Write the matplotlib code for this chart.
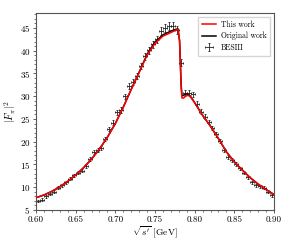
import numpy as np
import matplotlib
matplotlib.use("Agg")
import matplotlib.pyplot as plt
from matplotlib.ticker import MultipleLocator

plt.rcParams["font.family"] = "serif"
plt.rcParams["font.serif"] = ["cmr10", "DejaVu Serif"]
plt.rcParams["mathtext.fontset"] = "cm"
plt.rcParams["axes.formatter.use_mathtext"] = True

# BESIII data points (bin centres in GeV)
besiii_x = [0.6025, 0.6075, 0.6125, 0.6175, 0.6225, 0.6275, 0.6325, 0.6375, 0.6425, 0.6475,
            0.6525, 0.6575, 0.6625, 0.6675, 0.6725, 0.6775, 0.6825, 0.6875, 0.6925, 0.6975,
            0.7025, 0.7075, 0.7125, 0.7175, 0.7225, 0.7275, 0.7325, 0.7375, 0.7425, 0.7475,
            0.7525, 0.7575, 0.7625, 0.7675, 0.7725, 0.7775, 0.7825, 0.7875, 0.7925, 0.7975,
            0.8025, 0.8075, 0.8125, 0.8175, 0.8225, 0.8275, 0.8325, 0.8375, 0.8425, 0.8475,
            0.8525, 0.8575, 0.8625, 0.8675, 0.8725, 0.8775, 0.8825, 0.8875, 0.8925, 0.8975]
besiii_y = [7.0, 7.3, 8.0, 8.5, 9.0, 9.9, 10.4, 11.1, 11.9, 12.6,
            13.2, 13.6, 14.6, 16.2, 17.8, 18.1, 18.7, 20.6, 22.8, 24.2,
            26.5, 27.0, 30.0, 32.2, 33.2, 34.5, 36.7, 38.8, 40.1, 41.4,
            42.5, 44.4, 45.0, 45.4, 45.5, 44.5, 37.4, 30.7, 30.8, 30.4,
            28.3, 26.6, 25.5, 24.3, 23.0, 21.6, 20.1, 18.2, 16.6, 16.0,
            15.1, 14.2, 13.2, 12.2, 11.1, 10.4, 10.2, 9.9, 9.0, 8.2]
besiii_yerr = [0.3, 0.3, 0.3, 0.3, 0.3, 0.3, 0.3, 0.3, 0.35, 0.35,
               0.35, 0.35, 0.4, 0.4, 0.45, 0.45, 0.45, 0.5, 0.5, 0.55,
               0.55, 0.6, 0.6, 0.65, 0.65, 0.7, 0.7, 0.75, 0.75, 0.8,
               0.8, 0.85, 0.85, 0.85, 0.85, 0.85, 0.8, 0.6, 0.6, 0.6,
               0.55, 0.55, 0.5, 0.5, 0.5, 0.45, 0.45, 0.4, 0.4, 0.4,
               0.35, 0.35, 0.35, 0.3, 0.3, 0.3, 0.3, 0.3, 0.3, 0.3]
besiii_xerr = 0.0025

# Fit curves
fit_x = [0.600, 0.610, 0.620, 0.630, 0.640, 0.650, 0.660, 0.670, 0.680, 0.690,
         0.700, 0.710, 0.720, 0.730, 0.740, 0.750, 0.760, 0.770, 0.776, 0.779,
         0.781, 0.782, 0.783, 0.784, 0.786, 0.789, 0.792, 0.795, 0.800, 0.810,
         0.820, 0.830, 0.840, 0.850, 0.860, 0.870, 0.880, 0.890, 0.900]
this_work = [7.7, 8.3, 9.1, 10.1, 11.3, 12.7, 14.3, 16.2, 18.4, 21.0,
             24.0, 27.6, 31.5, 35.2, 39.0, 41.6, 43.2, 44.0, 44.5, 44.7,
             42.0, 37.0, 32.0, 29.6, 29.6, 30.1, 30.2, 29.8, 28.6, 25.8,
             23.4, 20.7, 17.8, 15.6, 13.8, 12.1, 10.7, 9.5, 8.4]
original_work = [7.7, 8.3, 9.1, 10.1, 11.3, 12.7, 14.3, 16.2, 18.4, 21.0,
                 24.0, 27.6, 31.5, 35.3, 39.2, 41.9, 43.5, 44.3, 44.7, 44.8,
                 42.2, 37.3, 32.5, 30.1, 30.2, 30.5, 30.4, 29.9, 28.6, 25.8,
                 23.4, 20.7, 17.8, 15.6, 13.8, 12.1, 10.7, 9.5, 8.4]

fig = plt.figure(figsize=(2.93, 2.40), dpi=100)
ax = fig.add_axes([0.123, 0.125, 0.812, 0.821])

ax.plot(fit_x, original_work, color="black", lw=1.1, label="Original work", zorder=2)
ax.plot(fit_x, this_work, color="red", lw=1.1, label="This work", zorder=3)
ax.errorbar(besiii_x, besiii_y, xerr=besiii_xerr, yerr=besiii_yerr, fmt="none",
            ecolor="#222222", elinewidth=0.6, capsize=1.0, capthick=0.6,
            label="BESIII", zorder=1)

ax.set_xlim(0.60, 0.90)
ax.set_ylim(5, 48.3)
ax.xaxis.set_major_locator(MultipleLocator(0.05))
ax.xaxis.set_minor_locator(MultipleLocator(0.01))
ax.yaxis.set_major_locator(MultipleLocator(5))
ax.yaxis.set_minor_locator(MultipleLocator(1))
ax.xaxis.set_major_formatter(matplotlib.ticker.FormatStrFormatter("%.2f"))
ax.tick_params(labelsize=6.5, width=0.6, length=2.5, pad=1.5, color="#444444")
ax.tick_params(which="minor", width=0.5, length=1.5, color="#444444")
for s in ax.spines.values():
    s.set_color("#555555")
    s.set_linewidth(0.8)

ax.set_xlabel(r"$\sqrt{s'}$ [GeV]", fontsize=6.8, labelpad=0)
ax.set_ylabel(r"$|F_\pi|^2$", fontsize=7.5, labelpad=1)

handles, labels = ax.get_legend_handles_labels()
order = [labels.index("This work"), labels.index("Original work"), labels.index("BESIII")]
ax.legend([handles[i] for i in order], [labels[i] for i in order],
          loc="upper right", fontsize=5.5, frameon=True, fancybox=False,
          edgecolor="#cccccc", handlelength=1.8, handletextpad=0.6,
          borderpad=0.5, labelspacing=0.4)

fig.savefig("out.png", dpi=100)
